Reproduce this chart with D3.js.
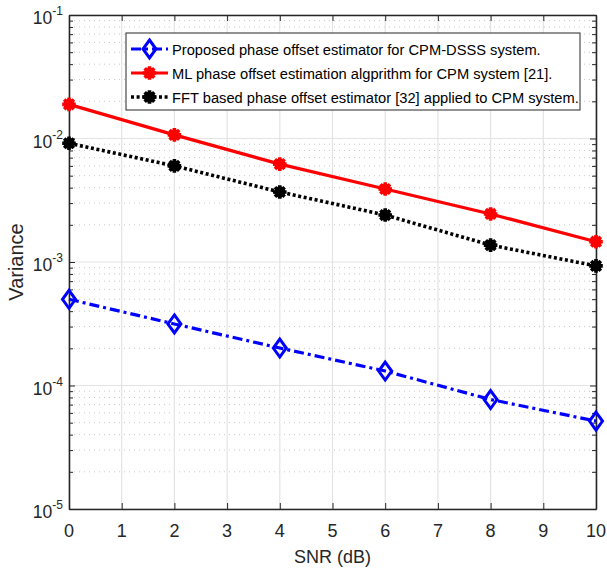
<!DOCTYPE html>
<html>
<head>
<meta charset="utf-8">
<script src="https://cdn.jsdelivr.net/npm/d3@7"></script>
<style>
  html, body { margin: 0; padding: 0; background: #fff; }
  svg { display: block; font-family: "Liberation Sans", Arial, Helvetica, sans-serif; }
</style>
</head>
<body>
<svg id="chart" width="607" height="570"></svg>
<script>
// SNR points (dB)
const snr = [0, 2, 4, 6, 8, 10];

// Estimator variance per SNR point
const proposed = [4.99e-4, 3.15e-4, 2.01e-4, 1.31e-4, 7.7e-5, 5.15e-5];
const mlCpm    = [1.89e-2, 1.07e-2, 6.2e-3, 3.9e-3, 2.45e-3, 1.46e-3];
const fftCpm   = [9.15e-3, 6.0e-3, 3.69e-3, 2.4e-3, 1.37e-3, 9.3e-4];

const seriesNames = [
  "Proposed phase offset estimator for CPM-DSSS system.",
  "ML phase offset estimation algprithm for CPM system [21].",
  "FFT based phase offset estimator [32] applied to CPM system."
];

const xTicks = [0, 1, 2, 3, 4, 5, 6, 7, 8, 9, 10];
const yDecades = [-5, -4, -3, -2, -1];

const svg = d3.select("#chart");
const L = 69, R = 596, T = 15, B = 509;

const x = d3.scaleLinear().domain([0, 10]).range([L, R]);
const y = d3.scaleLog().domain([1e-5, 1e-1]).range([B, T]);

const axisColor = "#262626";

// grid
const grid = svg.append("g");
const minorVals = [];
for (let e = -5; e < -1; e++) for (let m = 2; m <= 9; m++) minorVals.push(m * Math.pow(10, e));

grid.selectAll("line.minor").data(minorVals).join("line")
  .attr("x1", L).attr("x2", R)
  .attr("y1", d => y(d)).attr("y2", d => y(d))
  .attr("stroke", "#c8c8c8").attr("stroke-width", 1)
  .attr("stroke-dasharray", "1,4");

grid.selectAll("line.vx").data(xTicks).join("line")
  .attr("x1", d => x(d)).attr("x2", d => x(d))
  .attr("y1", T).attr("y2", B)
  .attr("stroke", "#e3e3e3").attr("stroke-width", 1.2);

grid.selectAll("line.hy").data(yDecades.map(e => Math.pow(10, e))).join("line")
  .attr("x1", L).attr("x2", R)
  .attr("y1", d => y(d)).attr("y2", d => y(d))
  .attr("stroke", "#e3e3e3").attr("stroke-width", 1.2);

// axes with inward ticks
const xAxisB = d3.axisBottom(x).tickValues(xTicks).tickSizeInner(-6).tickSizeOuter(0).tickFormat("");
const gxb = svg.append("g").attr("transform", `translate(0,${B})`).call(xAxisB);
const gxt = svg.append("g").attr("transform", `translate(0,${T})`)
  .call(d3.axisTop(x).tickValues(xTicks).tickSizeInner(-6).tickSizeOuter(0).tickFormat(""));

const majorY = yDecades.map(e => Math.pow(10, e));
const gyl = svg.append("g").attr("transform", `translate(${L},0)`)
  .call(d3.axisLeft(y).tickValues(majorY).tickSizeInner(-6).tickSizeOuter(0).tickFormat(""));
const gylm = svg.append("g").attr("transform", `translate(${L},0)`)
  .call(d3.axisLeft(y).tickValues(minorVals).tickSizeInner(-4).tickSizeOuter(0).tickFormat(""));
const gyr = svg.append("g").attr("transform", `translate(${R},0)`)
  .call(d3.axisRight(y).tickValues(majorY).tickSizeInner(-6).tickSizeOuter(0).tickFormat(""));
const gyrm = svg.append("g").attr("transform", `translate(${R},0)`)
  .call(d3.axisRight(y).tickValues(minorVals).tickSizeInner(-4).tickSizeOuter(0).tickFormat(""));

[gxb, gxt, gyl, gylm, gyr, gyrm].forEach(g => {
  g.select(".domain").attr("stroke", axisColor).attr("stroke-width", 1.3);
  g.selectAll(".tick line").attr("stroke", axisColor).attr("stroke-width", 1);
});

// x tick labels
svg.append("g").selectAll("text").data(xTicks).join("text")
  .attr("x", d => x(d)).attr("y", 537)
  .attr("text-anchor", "middle").attr("fill", axisColor).attr("font-size", 18)
  .text(d => d3.format("d")(d));

// y decade labels: 10 with superscript exponent
const yl = svg.append("g");
yDecades.forEach(e => {
  const t = yl.append("text")
    .attr("x", L - 6).attr("y", y(Math.pow(10, e)) + 9)
    .attr("text-anchor", "end").attr("fill", axisColor).attr("font-size", 17.5);
  t.append("tspan").text("10");
  t.append("tspan").attr("dy", -9).attr("font-size", 12).text(String(e));
});

// axis titles
svg.append("text").attr("x", (L + R) / 2).attr("y", 563)
  .attr("text-anchor", "middle").attr("fill", axisColor).attr("font-size", 18)
  .text("SNR (dB)");
svg.append("text").attr("transform", `translate(23,${(T + B) / 2}) rotate(-90)`)
  .attr("text-anchor", "middle").attr("fill", axisColor).attr("font-size", 20)
  .text("Variance");

// series
const series = [
  { name: seriesNames[0], values: proposed, color: "#0000ff", dash: "10,4,3,4", width: 3.2, marker: "diamond" },
  { name: seriesNames[1], values: mlCpm,    color: "#ff0000", dash: null,       width: 3.2, marker: "star" },
  { name: seriesNames[2], values: fftCpm,   color: "#000000", dash: "3,2.6",    width: 3.6, marker: "star" }
];

const line = d3.line().x(d => x(d[0])).y(d => y(d[1]));

function drawMarker(g, cx, cy, s) {
  if (s.marker === "diamond") {
    g.append("path")
      .attr("d", `M${cx},${cy - 9} L${cx + 6.5},${cy} L${cx},${cy + 9} L${cx - 6.5},${cy} Z`)
      .attr("fill", "none").attr("stroke", s.color).attr("stroke-width", 3);
  } else {
    const r = 6.8;
    let d = "";
    for (let k = 0; k < 4; k++) {
      const a = k * Math.PI / 4;
      d += `M${cx - r * Math.cos(a)},${cy - r * Math.sin(a)}L${cx + r * Math.cos(a)},${cy + r * Math.sin(a)}`;
    }
    g.append("path").attr("d", d).attr("stroke", s.color).attr("stroke-width", 3.6).attr("fill", "none");
    g.append("circle").attr("cx", cx).attr("cy", cy).attr("r", 5.6).attr("fill", s.color);
  }
}

const plot = svg.append("g");
series.forEach(s => {
  const pts = snr.map((v, i) => [v, s.values[i]]);
  plot.append("path").datum(pts).attr("d", line)
    .attr("fill", "none").attr("stroke", s.color).attr("stroke-width", s.width)
    .attr("stroke-dasharray", s.dash);
  const mg = plot.append("g");
  pts.forEach(p => drawMarker(mg, x(p[0]), y(p[1]), s));
});

// legend
const lg = svg.append("g");
lg.append("rect").attr("x", 126).attr("y", 33).attr("width", 454).attr("height", 77)
  .attr("fill", "#fff").attr("stroke", axisColor).attr("stroke-width", 1);
series.forEach((s, i) => {
  const cy = 49 + i * 24;
  lg.append("line").attr("x1", 131).attr("x2", 168).attr("y1", cy).attr("y2", cy)
    .attr("stroke", s.color).attr("stroke-width", s.width).attr("stroke-dasharray", s.dash);
  drawMarker(lg, 149.5, cy, s);
  lg.append("text").attr("x", 172).attr("y", cy + 5.5).attr("font-size", 14.7)
    .attr("fill", "#000").text(s.name);
});
</script>
</body>
</html>
